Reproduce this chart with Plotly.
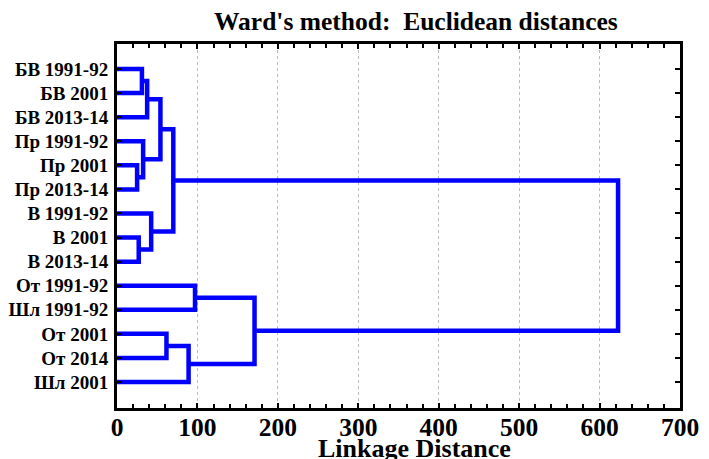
import plotly.graph_objects as go

# ---- data ----
leaf_labels = ["БВ 1991-92", "БВ 2001", "БВ 2013-14", "Пр 1991-92", "Пр 2001", "Пр 2013-14",
               "В 1991-92", "В 2001", "В 2013-14", "От 1991-92", "Шл 1991-92", "От 2001",
               "От 2014", "Шл 2001"]
# merges: ids < 14 are leaves, id 14+k is the k-th merge
merge_left = [0, 14, 4, 3, 15, 7, 6, 18, 9, 11, 23, 22, 21]
merge_right = [1, 2, 5, 16, 17, 8, 19, 20, 10, 12, 13, 24, 25]
merge_height = [31, 37.5, 25, 32.5, 54, 27, 42.5, 70, 97, 61.5, 89, 171, 623]
x_tick_vals = [0, 100, 200, 300, 400, 500, 600, 700]

n = len(leaf_labels)
pos = {i: float(i) for i in range(n)}
hgt = {i: 0.0 for i in range(n)}
xs, ys = [], []
for k, (a, b, h) in enumerate(zip(merge_left, merge_right, merge_height)):
    xs += [hgt[a], h, h, hgt[b], None]
    ys += [pos[a], pos[a], pos[b], pos[b], None]
    pos[n + k] = (pos[a] + pos[b]) / 2
    hgt[n + k] = h

fig = go.Figure()
fig.add_trace(go.Scatter(x=xs, y=ys, mode="lines",
                         line=dict(color="#0000ff", width=4.5),
                         hoverinfo="skip", showlegend=False))

# page body has an 8px margin, so the figure is 8px smaller and offsets shifted
OFF = 8
PL, PR, PT, PB = 116.5, 680, 44, 408
PW, PH = PR - PL, PB - PT
font_family = "Liberation Serif"
fig.update_layout(
    width=709 - OFF, height=459 - OFF,
    margin=dict(l=PL - OFF, r=709 - PR, t=PT - OFF, b=459 - PB, autoexpand=False),
    paper_bgcolor="white", plot_bgcolor="white",
    showlegend=False,
    annotations=[
        dict(text="<b>Ward's method:  Euclidean distances</b>", xref="paper", yref="paper",
             x=(416 - PL) / PW, y=1 + (PT - 22) / PH, xanchor="center", yanchor="middle",
             showarrow=False, font=dict(family=font_family, size=25.5, color="#000000")),
        dict(text="<b>Linkage Distance</b>", xref="paper", yref="paper",
             x=(414 - PL) / PW, y=-(448 - PB) / PH, xanchor="center", yanchor="middle",
             showarrow=False, font=dict(family=font_family, size=26, color="#000000")),
    ],
)
fig.update_xaxes(
    range=[0, 700], tickvals=x_tick_vals, ticktext=[f"<b>{v}</b>" for v in x_tick_vals],
    showline=True, linecolor="black", linewidth=3, mirror="allticks",
    ticks="inside", ticklen=5, tickwidth=2, tickcolor="black",
    minor=dict(dtick=20, tick0=0, ticks="inside", ticklen=4, tickwidth=1.5, tickcolor="black", showgrid=False),
    showgrid=True, gridcolor="#bbbbbb", griddash="dot", gridwidth=1,
    zeroline=False, automargin=False, ticklabelstandoff=-6,
    tickfont=dict(family=font_family, size=25.5, color="#000000"),
)
fig.update_yaxes(
    range=[n - 1 + 1.08, -1.04], tickvals=list(range(n)), ticktext=[f"<b>{t}</b>" for t in leaf_labels],
    showline=True, linecolor="black", linewidth=3, mirror="allticks",
    ticks="inside", ticklen=5, tickwidth=2, tickcolor="black",
    showgrid=False, zeroline=False, ticklabelstandoff=2, automargin=False,
    tickfont=dict(family=font_family, size=19, color="#000000"),
)
fig.write_html("out.html")
